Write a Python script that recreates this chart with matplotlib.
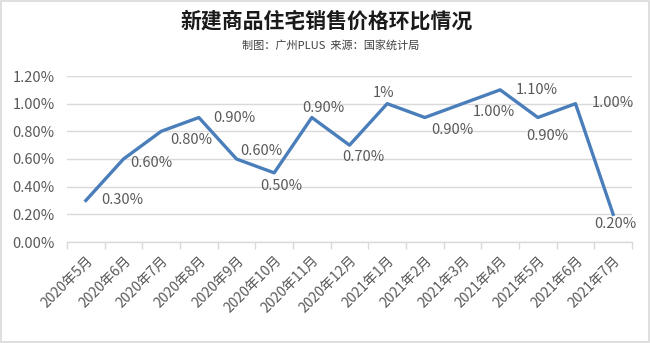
#!/usr/bin/env python3
"""
新建商品住宅销售价格环比折线图
"""
import matplotlib
matplotlib.use('Agg')
import matplotlib.pyplot as plt
from matplotlib.patches import Rectangle
from matplotlib.ticker import FuncFormatter, FixedLocator

plt.rcParams['font.family'] = ['Noto Sans CJK SC', 'DejaVu Sans']
plt.rcParams['axes.unicode_minus'] = False

# 月份与环比涨幅(%)
months = ['2020年5月', '2020年6月', '2020年7月', '2020年8月', '2020年9月',
          '2020年10月', '2020年11月', '2020年12月', '2021年1月', '2021年2月',
          '2021年3月', '2021年4月', '2021年5月', '2021年6月', '2021年7月']
mom = [0.30, 0.60, 0.80, 0.90, 0.60, 0.50, 0.90, 0.70,
       1.00, 0.90, 1.00, 1.10, 0.90, 1.00, 0.20]
labels = ['0.30%', '0.60%', '0.80%', '0.90%', '0.60%', '0.50%', '0.90%', '0.70%',
          '1%', '0.90%', '1.00%', '1.10%', '0.90%', '1.00%', '0.20%']

# 数据标签相对点的偏移(像素)
offsets = [(36, 0), (28, -4), (30, -9), (36, 0), (25, 8), (7, -13), (12, 9), (14, -12),
           (-4, 11), (28, -13), (31, -8), (37, 0), (10, -18), (37, 1), (2, -10)]

TXT = '#595959'
GRID = '#d9d9d9'

fig = plt.figure(figsize=(6.5, 3.43), dpi=100)
fig.patches.append(Rectangle((0.002, 0.003), 0.996, 0.994, transform=fig.transFigure,
                             fill=False, edgecolor=GRID, linewidth=1.2))

ax = fig.add_axes([67 / 650, 1 - 242 / 343, 565 / 650, 166 / 343])
x = list(range(len(months)))
ax.plot(x, mom, color='#4a7ebb', linewidth=2.4, solid_joinstyle='round', zorder=3)

for xi, yi, lab, (dx, dy) in zip(x, mom, labels, offsets):
    ax.annotate(lab, (xi, yi), xytext=(dx, dy), textcoords='offset pixels',
                ha='center', va='center', fontsize=10.5, color=TXT)

ax.set_xlim(-0.5, len(months) - 0.5)
ax.set_ylim(0, 1.2)
ax.set_yticks([0, 0.2, 0.4, 0.6, 0.8, 1.0, 1.2])
ax.yaxis.set_major_formatter(FuncFormatter(lambda v, p: f'{v:.2f}%'))
ax.grid(axis='y', color=GRID, linewidth=1)
ax.set_axisbelow(True)

ax.set_xticks(x)
ax.set_xticklabels(months, rotation=45, ha='right', rotation_mode='anchor')
ax.xaxis.set_minor_locator(FixedLocator([i - 0.5 for i in range(len(months) + 1)]))
ax.tick_params(axis='x', which='major', length=0, pad=8, labelsize=10, labelcolor=TXT)
ax.tick_params(axis='x', which='minor', length=5, color=GRID, width=1)
ax.tick_params(axis='y', length=0, pad=9, labelsize=10.5, labelcolor=TXT)

for side in ['top', 'right', 'left']:
    ax.spines[side].set_visible(False)
ax.spines['bottom'].set_color(GRID)
ax.spines['bottom'].set_linewidth(1)

fig.text(0.503, 1 - 21 / 343, '新建商品住宅销售价格环比情况', ha='center', va='center',
         fontsize=15, fontweight='bold', color='#1a1a1a')
fig.text(0.508, 1 - 45 / 343, '制图：广州PLUS  来源：国家统计局', ha='center', va='center',
         fontsize=8, color='#404040')

plt.savefig('out.png', dpi=100)
